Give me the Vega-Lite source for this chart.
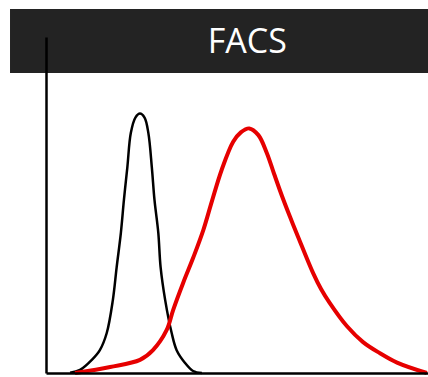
{
  "$schema": "https://vega.github.io/schema/vega-lite/v6.json",
  "autosize": "none",
  "width": 382,
  "height": 336,
  "padding": {"left": 46, "top": 37, "right": 0, "bottom": 4},
  "background": "white",
  "config": {"view": {"stroke": null}},
  "datasets": {
    "curves": [
      {"series": "control", "x": 6.3, "y": 0.1},
      {"series": "control", "x": 8.9, "y": 0.9},
      {"series": "control", "x": 12.0, "y": 3.9},
      {"series": "control", "x": 14.1, "y": 6.8},
      {"series": "control", "x": 15.9, "y": 11.9},
      {"series": "control", "x": 17.5, "y": 21.7},
      {"series": "control", "x": 18.5, "y": 31.5},
      {"series": "control", "x": 19.6, "y": 41.7},
      {"series": "control", "x": 20.4, "y": 51.5},
      {"series": "control", "x": 21.3, "y": 61.3},
      {"series": "control", "x": 22.2, "y": 71.4},
      {"series": "control", "x": 23.4, "y": 76.0},
      {"series": "control", "x": 24.6, "y": 77.2},
      {"series": "control", "x": 25.8, "y": 76.0},
      {"series": "control", "x": 26.8, "y": 71.4},
      {"series": "control", "x": 27.7, "y": 61.3},
      {"series": "control", "x": 28.4, "y": 51.5},
      {"series": "control", "x": 29.4, "y": 41.7},
      {"series": "control", "x": 30.0, "y": 31.5},
      {"series": "control", "x": 31.2, "y": 21.7},
      {"series": "control", "x": 32.9, "y": 11.9},
      {"series": "control", "x": 34.2, "y": 6.8},
      {"series": "control", "x": 36.4, "y": 3.0},
      {"series": "control", "x": 38.5, "y": 0.6},
      {"series": "control", "x": 40.8, "y": 0.0},
      {"series": "stained", "x": 7.6, "y": 0.0},
      {"series": "stained", "x": 16.8, "y": 1.8},
      {"series": "stained", "x": 24.6, "y": 3.9},
      {"series": "stained", "x": 28.0, "y": 6.8},
      {"series": "stained", "x": 31.6, "y": 12.8},
      {"series": "stained", "x": 33.3, "y": 18.8},
      {"series": "stained", "x": 35.9, "y": 26.8},
      {"series": "stained", "x": 38.6, "y": 34.5},
      {"series": "stained", "x": 41.2, "y": 42.6},
      {"series": "stained", "x": 43.4, "y": 51.0},
      {"series": "stained", "x": 46.0, "y": 60.5},
      {"series": "stained", "x": 49.0, "y": 68.8},
      {"series": "stained", "x": 51.0, "y": 71.6},
      {"series": "stained", "x": 53.2, "y": 72.8},
      {"series": "stained", "x": 55.6, "y": 70.8},
      {"series": "stained", "x": 57.8, "y": 65.5},
      {"series": "stained", "x": 59.7, "y": 59.3},
      {"series": "stained", "x": 61.8, "y": 52.6},
      {"series": "stained", "x": 63.9, "y": 46.4},
      {"series": "stained", "x": 66.0, "y": 40.5},
      {"series": "stained", "x": 69.9, "y": 29.8},
      {"series": "stained", "x": 72.0, "y": 25.0},
      {"series": "stained", "x": 74.3, "y": 20.8},
      {"series": "stained", "x": 78.8, "y": 13.9},
      {"series": "stained", "x": 83.0, "y": 9.2},
      {"series": "stained", "x": 87.4, "y": 5.9},
      {"series": "stained", "x": 91.9, "y": 3.1},
      {"series": "stained", "x": 99.7, "y": 0.0}
    ]
  },
  "layer": [
    {
      "data": {"values": [{"label": "FACS"}]},
      "mark": {"type": "rect", "color": "#232323", "clip": false},
      "encoding": {
        "x": {"datum": -9.42, "type": "quantitative", "scale": {"domain": [0, 100], "nice": false, "zero": false}},
        "x2": {"datum": 101},
        "y": {"datum": 108.3, "type": "quantitative", "scale": {"domain": [0, 100], "nice": false, "zero": false}},
        "y2": {"datum": 89.3}
      }
    },
    {
      "data": {"values": [{"label": "FACS"}]},
      "mark": {"type": "text", "color": "white", "font": "Open Sans", "fontSize": 34, "baseline": "alphabetic", "align": "center", "clip": false},
      "encoding": {
        "x": {"datum": 52.7, "type": "quantitative"},
        "y": {"datum": 95.2, "type": "quantitative"},
        "text": {"field": "label"}
      }
    },
    {
      "data": {"name": "curves"},
      "transform": [{"filter": "datum.series === 'control'"}],
      "mark": {"type": "line", "color": "black", "strokeWidth": 2.5, "interpolate": "catmull-rom"},
      "encoding": {
        "x": {"field": "x", "type": "quantitative"},
        "y": {"field": "y", "type": "quantitative"}
      }
    },
    {
      "data": {"name": "curves"},
      "transform": [{"filter": "datum.series === 'stained'"}],
      "mark": {"type": "line", "color": "#e60000", "strokeWidth": 4, "interpolate": "catmull-rom"},
      "encoding": {
        "x": {"field": "x", "type": "quantitative", "axis": {"domain": true, "domainColor": "black", "domainWidth": 2.5, "labels": false, "ticks": false, "grid": false, "title": null, "zindex": 1}},
        "y": {"field": "y", "type": "quantitative", "axis": {"domain": true, "domainColor": "black", "domainWidth": 2.5, "labels": false, "ticks": false, "grid": false, "title": null, "zindex": 1}}
      }
    }
  ],
  "resolve": {"scale": {"x": "shared", "y": "shared"}}
}
